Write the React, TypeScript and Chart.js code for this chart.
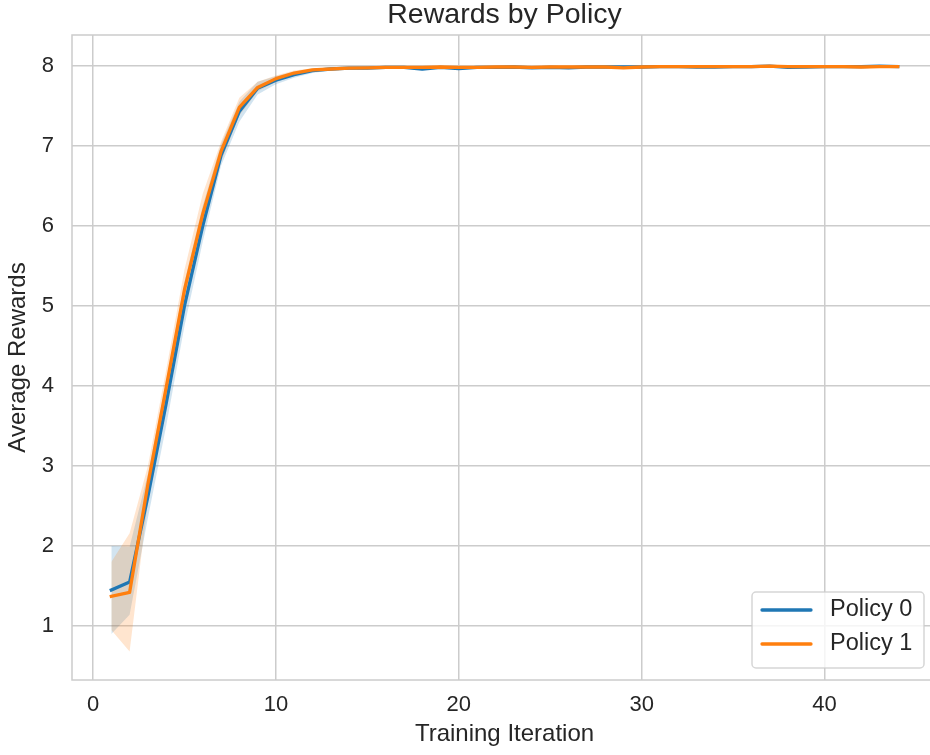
import React, { useEffect, useRef } from "react";
import { Chart, registerables } from "chart.js";

Chart.register(...registerables);

// ---------- data ----------
const iterations = [
  1, 2, 3, 4, 5, 6, 7, 8, 9, 10, 11, 12, 13, 14, 15, 16, 17, 18, 19, 20, 21, 22,
  23, 24, 25, 26, 27, 28, 29, 30, 31, 32, 33, 34, 35, 36, 37, 38, 39, 40, 41, 42, 43, 44,
];

const policy0Mean = [
  1.45, 1.55, 2.62, 3.78, 5.0, 6.0, 6.88, 7.43, 7.72, 7.82, 7.89, 7.94, 7.96, 7.97, 7.97,
  7.98, 7.98, 7.96, 7.98, 7.965, 7.98, 7.98, 7.985, 7.975, 7.98, 7.975, 7.985, 7.985, 7.985,
  7.985, 7.99, 7.99, 7.985, 7.985, 7.99, 7.99, 7.995, 7.98, 7.985, 7.99, 7.99, 7.99, 7.995, 7.99,
];
const policy0Low = [
  0.9, 1.14, 2.35, 3.5, 4.75, 5.8, 6.75, 7.3, 7.64, 7.77, 7.85, 7.91, 7.94, 7.955, 7.955,
  7.965, 7.97, 7.94, 7.97, 7.95, 7.97, 7.97, 7.975, 7.96, 7.97, 7.96, 7.975, 7.975, 7.975,
  7.975, 7.98, 7.98, 7.975, 7.975, 7.98, 7.98, 7.985, 7.965, 7.975, 7.98, 7.98, 7.98, 7.985, 7.98,
];
const policy0High = [
  2.0, 1.99, 2.9, 4.05, 5.3, 6.25, 7.02, 7.55, 7.8, 7.87, 7.93, 7.96, 7.98, 7.985, 7.985,
  7.99, 7.99, 7.975, 7.99, 7.98, 7.99, 7.99, 7.995, 7.99, 7.99, 7.99, 7.995, 7.995, 7.995,
  7.995, 8.0, 8.0, 7.995, 7.995, 8.0, 8.0, 8.005, 7.995, 7.995, 8.0, 8.0, 8.0, 8.005, 8.0,
];

const policy1Mean = [
  1.37, 1.42, 2.77, 3.98, 5.2, 6.15, 6.93, 7.48, 7.73, 7.84, 7.91, 7.95, 7.96, 7.97, 7.975,
  7.98, 7.98, 7.98, 7.985, 7.98, 7.98, 7.985, 7.985, 7.98, 7.985, 7.985, 7.985, 7.985, 7.975,
  7.985, 7.99, 7.99, 7.99, 7.99, 7.99, 7.99, 7.995, 7.99, 7.99, 7.99, 7.99, 7.985, 7.99, 7.99,
];
const policy1Low = [
  0.95, 0.68, 2.55, 3.75, 4.95, 5.95, 6.8, 7.38, 7.68, 7.8, 7.88, 7.93, 7.945, 7.955, 7.96,
  7.97, 7.97, 7.97, 7.975, 7.97, 7.97, 7.975, 7.975, 7.97, 7.975, 7.975, 7.975, 7.975, 7.96,
  7.975, 7.98, 7.98, 7.98, 7.98, 7.98, 7.98, 7.985, 7.98, 7.98, 7.98, 7.98, 7.975, 7.98, 7.98,
];
const policy1High = [
  1.8, 2.16, 3.0, 4.2, 5.45, 6.4, 7.05, 7.6, 7.8, 7.88, 7.94, 7.97, 7.975, 7.985, 7.99,
  7.99, 7.99, 7.99, 7.995, 7.99, 7.99, 7.995, 7.995, 7.99, 7.995, 7.995, 7.995, 7.995, 7.99,
  7.995, 8.0, 8.0, 8.0, 8.0, 8.0, 8.0, 8.005, 8.0, 8.0, 8.0, 8.0, 7.995, 8.0, 8.0,
];

const seriesNames = ["Policy 0", "Policy 1"];
const xTicks = [0, 10, 20, 30, 40];
const yTicks = [1, 2, 3, 4, 5, 6, 7, 8];
const chartTitle = "Rewards by Policy";
const xTitle = "Training Iteration";
const yTitle = "Average Rewards";

// ---------- styles ----------
const FONT = "'Liberation Sans', Arial, Helvetica, sans-serif";
const TEXT = "#262626";
const GRID = "#cccccc";
const BLUE = "#1f77b4";
const ORANGE = "#ff7f0e";

const pts = (ys: number[]) => iterations.map((x, i) => ({ x, y: ys[i] }));

const framePlugin = {
  id: "frame",
  beforeDatasetsDraw(chart: any) {
    const { ctx, chartArea: a } = chart;
    ctx.save();
    ctx.strokeStyle = GRID;
    ctx.lineWidth = 1.5;
    ctx.strokeRect(a.left, a.top, a.right - a.left, a.bottom - a.top);
    ctx.restore();
  },
};

const legendPlugin = {
  id: "customLegend",
  afterDraw(chart: any) {
    const { ctx, chartArea: a } = chart;
    const w = 172;
    const h = 76;
    const right = a.right - 13;
    const bottom = a.bottom - 12;
    const left = right - w;
    const top = bottom - h;
    ctx.save();
    ctx.beginPath();
    const r = 4;
    ctx.moveTo(left + r, top);
    ctx.lineTo(right - r, top);
    ctx.arcTo(right, top, right, top + r, r);
    ctx.lineTo(right, bottom - r);
    ctx.arcTo(right, bottom, right - r, bottom, r);
    ctx.lineTo(left + r, bottom);
    ctx.arcTo(left, bottom, left, bottom - r, r);
    ctx.lineTo(left, top + r);
    ctx.arcTo(left, top, left + r, top, r);
    ctx.closePath();
    ctx.fillStyle = "rgba(255,255,255,0.8)";
    ctx.fill();
    ctx.strokeStyle = "rgba(204,204,204,0.8)";
    ctx.lineWidth = 1.5;
    ctx.stroke();
    const colors = [BLUE, ORANGE];
    seriesNames.forEach((name, i) => {
      const y = top + 18 + i * 34;
      ctx.beginPath();
      ctx.strokeStyle = colors[i];
      ctx.lineWidth = 3.3;
      ctx.lineCap = "round";
      ctx.moveTo(left + 10, y);
      ctx.lineTo(left + 59, y);
      ctx.stroke();
      ctx.fillStyle = TEXT;
      ctx.font = `23.5px ${FONT}`;
      ctx.textBaseline = "middle";
      ctx.textAlign = "left";
      ctx.fillText(name, left + 78, y);
    });
    ctx.restore();
  },
};

export default function App() {
  const canvasRef = useRef<HTMLCanvasElement | null>(null);

  useEffect(() => {
    if (!canvasRef.current) return;
    const band = (data: number[], fill: any, color: string, order: number) => ({
      data: pts(data),
      borderColor: "rgba(0,0,0,0)",
      borderWidth: 0,
      backgroundColor: color,
      pointRadius: 0,
      pointHoverRadius: 0,
      fill,
      order,
      tension: 0,
    });
    const line = (label: string, data: number[], color: string, order: number) => ({
      label,
      data: pts(data),
      borderColor: color,
      backgroundColor: color,
      borderWidth: 3.3,
      borderCapStyle: "square",
      borderJoinStyle: "round",
      pointRadius: 0,
      pointHoverRadius: 0,
      fill: false,
      order,
      tension: 0,
    });

    const chart = new Chart(canvasRef.current, {
      type: "line",
      data: {
        datasets: [
          band(policy0Low, false, "rgba(0,0,0,0)", 5),
          band(policy0High, 0, "rgba(31,119,180,0.2)", 4),
          band(policy1Low, false, "rgba(0,0,0,0)", 3),
          band(policy1High, 2, "rgba(255,127,14,0.2)", 2),
          line(seriesNames[0], policy0Mean, BLUE, 1),
          line(seriesNames[1], policy1Mean, ORANGE, 0),
        ] as any,
      },
      options: {
        responsive: false,
        animation: false,
        devicePixelRatio: 1,
        layout: { padding: 0 },
        plugins: {
          legend: { display: false },
          tooltip: { enabled: false },
          title: {
            display: true,
            text: chartTitle,
            fullSize: false,
            color: TEXT,
            font: { family: FONT, size: 28.5, weight: "normal", lineHeight: 1.0 },
            padding: { top: 1, bottom: 5.5 },
          },
        },
        scales: {
          x: {
            type: "linear",
            position: "bottom",
            min: -1.15,
            max: 46.15,
            afterBuildTicks: (s: any) => {
              s.ticks = xTicks.map((v) => ({ value: v }));
            },
            afterFit: (s: any) => {
              s.height = 75;
            },
            grid: { color: GRID, lineWidth: 1.5, drawTicks: false },
            border: { display: false },
            ticks: {
              color: TEXT,
              font: { family: FONT, size: 22 },
              padding: 12,
              maxRotation: 0,
            },
            title: {
              display: true,
              text: xTitle,
              color: TEXT,
              font: { family: FONT, size: 24 },
              padding: { top: 0, bottom: 6 },
            },
          },
          y: {
            type: "linear",
            position: "left",
            min: 0.325,
            max: 8.385,
            afterBuildTicks: (s: any) => {
              s.ticks = yTicks.map((v) => ({ value: v }));
            },
            afterFit: (s: any) => {
              s.width = 72;
            },
            grid: { color: GRID, lineWidth: 1.5, drawTicks: false },
            border: { display: false },
            ticks: {
              color: TEXT,
              font: { family: FONT, size: 22 },
              padding: 18,
            },
            title: {
              display: true,
              text: yTitle,
              color: TEXT,
              font: { family: FONT, size: 24 },
              padding: { top: 4, bottom: 0 },
            },
          },
        },
      } as any,
      plugins: [framePlugin, legendPlugin],
    });
    return () => chart.destroy();
  }, []);

  return (
    <div
      style={{
        position: "fixed",
        left: 0,
        top: 0,
        width: 930,
        height: 755,
        overflow: "hidden",
        background: "#ffffff",
      }}
    >
      <canvas
        ref={canvasRef}
        width={937}
        height={755}
        style={{ display: "block", width: 937, height: 755 }}
      />
    </div>
  );
}
